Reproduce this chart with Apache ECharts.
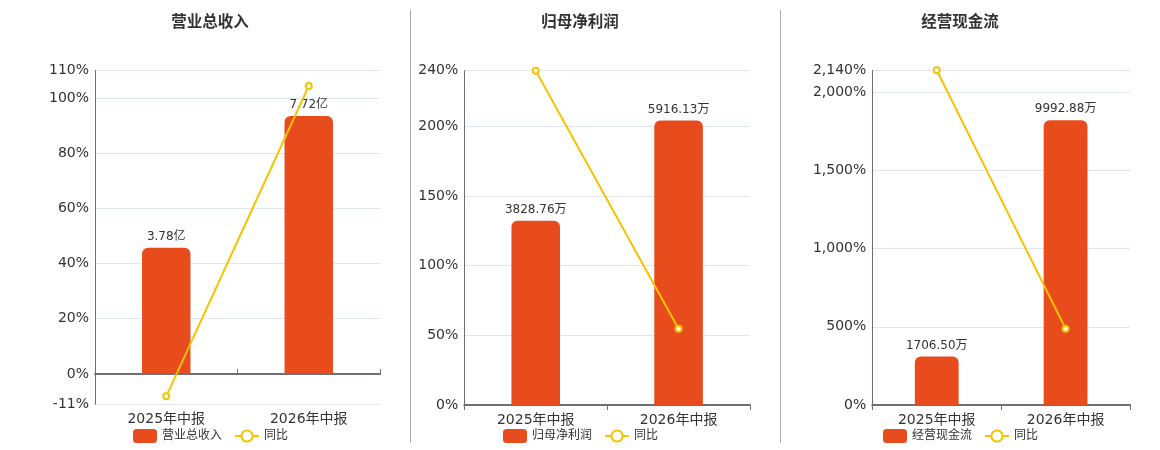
<!DOCTYPE html>
<html>
<head>
<meta charset="utf-8">
<script src="https://cdn.jsdelivr.net/npm/echarts@6/dist/echarts.min.js"></script>
<style>
html,body{margin:0;padding:0;background:#fff;}
#c{width:1160px;height:450px;}
</style>
</head>
<body>
<div id="c"></div>
<script>
// ---- data ----
var categories = ['2025年中报', '2026年中报'];
var titles = ['营业总收入', '归母净利润', '经营现金流'];
var revenue = [3.78, 7.72];          // 亿
var revenueYoY = [-8.1, 104.3];      // %
var netProfit = [3828.76, 5916.13];  // 万
var netProfitYoY = [240, 54.8];      // %
var cashFlow = [1706.50, 9992.88];   // 万
var cashFlowYoY = [2140, 488];       // %
var units = ['亿', '万', '万'];
var pctMin = [-11, 0, 0];
var pctMax = [110, 240, 2140];
var barMin = [-0.9091, 0, 0];
var barMax = [9.0909, 6950, 11750];

var barValues = [revenue, netProfit, cashFlow];
var yoyValues = [revenueYoY, netProfitYoY, cashFlowYoY];

var FONT = '"DejaVu Sans", "Noto Sans CJK SC", sans-serif';
var BAR_COLOR = '#E84C1D';
var LINE_COLOR = '#F5C400';
var AXIS_COLOR = '#6E7079';

var grids = [
  {left: 95, width: 285, top: 70.3, height: 334},
  {left: 464.3, width: 285.7, top: 70.7, height: 334.3},
  {left: 872.3, width: 257.7, top: 70.3, height: 334.7}
];
var titleCenters = [210, 580, 960];
var legendLefts = [128, 498, 878];

function fmtPct(v) {
  var s = Math.round(v).toString().replace(/\B(?=(\d{3})+(?!\d))/g, ',');
  return s + '%';
}

var option = {
  animation: false,
  textStyle: {fontFamily: FONT},
  title: [], grid: [], xAxis: [], yAxis: [], legend: [], series: [],
  graphic: [
    {type: 'line', shape: {x1: 410.5, y1: 10, x2: 410.5, y2: 443}, style: {stroke: '#aaaaaa', lineWidth: 1}},
    {type: 'line', shape: {x1: 780.5, y1: 10, x2: 780.5, y2: 443}, style: {stroke: '#aaaaaa', lineWidth: 1}}
  ]
};

var i;
for (i = 0; i < 3; i++) {
  option.title.push({
    text: titles[i], left: titleCenters[i], top: 15, textAlign: 'center', padding: 0,
    textStyle: {fontSize: 15.5, fontWeight: 'bold', color: '#333', fontFamily: FONT}
  });
  var g = grids[i];
  option.grid.push({left: g.left, width: g.width, top: g.top, height: g.height, containLabel: false, outerBoundsMode: 'none'});
  // label axis at grid bottom
  option.xAxis.push({
    type: 'category', gridIndex: i, data: categories, position: 'bottom',
    axisLine: {show: i > 0, onZero: false, lineStyle: {color: AXIS_COLOR, width: 2}},
    axisTick: {show: i > 0, length: 5, lineStyle: {color: AXIS_COLOR}},
    axisLabel: {fontSize: 14, color: '#333', margin: 8, fontFamily: FONT},
    splitLine: {show: false}
  });
  option.yAxis.push({
    type: 'value', gridIndex: i, min: pctMin[i], max: pctMax[i],
    axisLine: {show: true, lineStyle: {color: AXIS_COLOR, width: 1}},
    axisTick: {show: false},
    axisLabel: {fontSize: 14, color: '#333', margin: 6, formatter: fmtPct, fontFamily: FONT},
    splitLine: {show: true, lineStyle: {color: '#E0E6F1'}}
  });
  option.yAxis.push({
    type: 'value', gridIndex: i, min: barMin[i], max: barMax[i], show: false,
    splitLine: {show: false}
  });
  (function (idx) {
    option.series.push({
      name: titles[idx], type: 'bar', xAxisIndex: idx, yAxisIndex: idx * 2 + 1,
      data: barValues[idx], barWidth: '34%', z: 2,
      itemStyle: {color: BAR_COLOR, borderRadius: [6, 6, 0, 0]},
      label: {
        show: true, position: 'top', distance: 5, fontSize: 12, color: '#333', fontFamily: FONT,
        formatter: function (p) { return p.value.toFixed(2) + units[idx]; }
      }
    });
    option.series.push({
      name: '同比', type: 'line', xAxisIndex: idx, yAxisIndex: idx * 2,
      data: yoyValues[idx], z: 3,
      symbol: 'emptyCircle', symbolSize: 6,
      lineStyle: {color: LINE_COLOR, width: 2},
      itemStyle: {color: LINE_COLOR, borderColor: LINE_COLOR, borderWidth: 1.5},
      label: {show: false}
    });
  })(i);
  option.legend.push({
    left: legendLefts[i], top: 424,
    data: [{name: titles[i], icon: 'roundRect', itemStyle: {color: BAR_COLOR}}, {name: '同比'}],
    itemWidth: 24, itemHeight: 14, itemGap: 12,
    textStyle: {fontSize: 12, color: '#333', fontFamily: FONT},
    seriesIndex: [i * 2, i * 2 + 1]
  });
}
// zero line axis for the first chart (axis line through 0%)
option.xAxis.push({
  type: 'category', gridIndex: 0, data: categories,
  axisLine: {show: true, onZero: true, onZeroAxisIndex: 0, lineStyle: {color: AXIS_COLOR, width: 2}},
  axisTick: {show: true, length: 5, lineStyle: {color: AXIS_COLOR}},
  axisLabel: {show: false},
  splitLine: {show: false}
});

var chart = echarts.init(document.getElementById('c'));
chart.setOption(option);
</script>
</body>
</html>
